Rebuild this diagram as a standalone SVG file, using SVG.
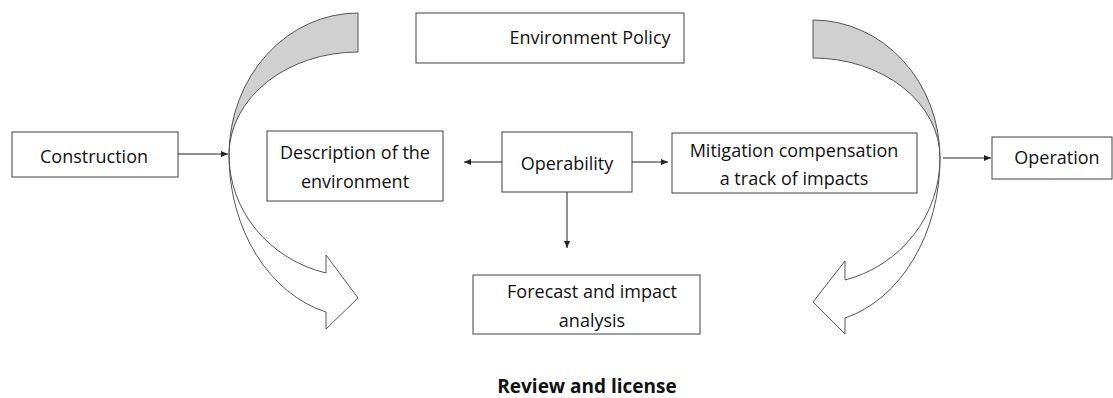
<svg xmlns="http://www.w3.org/2000/svg" width="1113" height="398" viewBox="0 0 1113 398">
<style>
.box{fill:#fff;stroke:#404040;stroke-width:1}
.t{font-family:"Open Sans","Liberation Sans",sans-serif;font-size:18px;fill:#111;text-anchor:middle}
.b{font-weight:bold;font-size:19px}
.band{stroke:#555;stroke-width:1;stroke-linejoin:miter}
.back{fill:#d0d0d0}
.front{fill:#fff}
.con{stroke:#222;stroke-width:1;fill:none;marker-end:url(#ah)}
</style>
<defs>
<marker id="ah" markerWidth="7" markerHeight="6" refX="7" refY="3" orient="auto" markerUnits="userSpaceOnUse">
<path d="M0,0 L7,3 L0,6 Z" fill="#222"/>
</marker>
</defs>
<rect width="1113" height="398" fill="#fff"/>
<g id="curve-left">
<path class="band back" d="M358,13 A129,142 0 0 0 229,155 A129,103 0 0 1 358,52 Z"/>
<path class="band front" d="M229,155 A129,162 0 0 0 326,312 L326,329 L358,298 L326,255 L326,273 A129,122 0 0 1 229,155 Z"/>
</g>
<g id="curve-right">
<path class="band back" d="M813,20 A127,138 0 0 1 940,158 A127,100 0 0 0 813,58 Z"/>
<path class="band front" d="M940,158 A127,165 0 0 1 845,318 L845,334 L813,302 L845,261 L845,280 A127,126 0 0 0 940,158 Z"/>
</g>
<g id="node-policy">
<rect class="box" x="416" y="13" width="268" height="50"/>
<text class="t" x="590" y="44">Environment Policy</text>
</g>
<g id="node-construction">
<rect class="box" x="12" y="132" width="166" height="45"/>
<text class="t" x="94" y="163">Construction</text>
</g>
<g id="node-description">
<rect class="box" x="267" y="131" width="176" height="70"/>
<text class="t" x="355" y="159">Description of the</text>
<text class="t" x="355" y="188">environment</text>
</g>
<g id="node-operability">
<rect class="box" x="502" y="132" width="130" height="60"/>
<text class="t" x="567" y="170">Operability</text>
</g>
<g id="node-mitigation">
<rect class="box" x="672" y="133" width="245" height="60"/>
<text class="t" x="794" y="157">Mitigation compensation</text>
<text class="t" x="794" y="185">a track of impacts</text>
</g>
<g id="node-operation">
<rect class="box" x="992" y="137" width="120" height="42"/>
<text class="t" x="1057" y="164">Operation</text>
</g>
<g id="node-forecast">
<rect class="box" x="473" y="275" width="227" height="59"/>
<text class="t" x="592" y="298">Forecast and impact</text>
<text class="t" x="592" y="327">analysis</text>
</g>
<g id="label-review">
<text class="t b" x="587" y="393">Review and license</text>
</g>
<g id="connectors">
<line class="con" x1="178" y1="154" x2="228" y2="154"/>
<line class="con" x1="502" y1="162" x2="464" y2="162"/>
<line class="con" x1="632" y1="162" x2="668" y2="162"/>
<line class="con" x1="567" y1="192" x2="567" y2="248"/>
<line class="con" x1="943" y1="158" x2="991" y2="158"/>
</g>
</svg>
